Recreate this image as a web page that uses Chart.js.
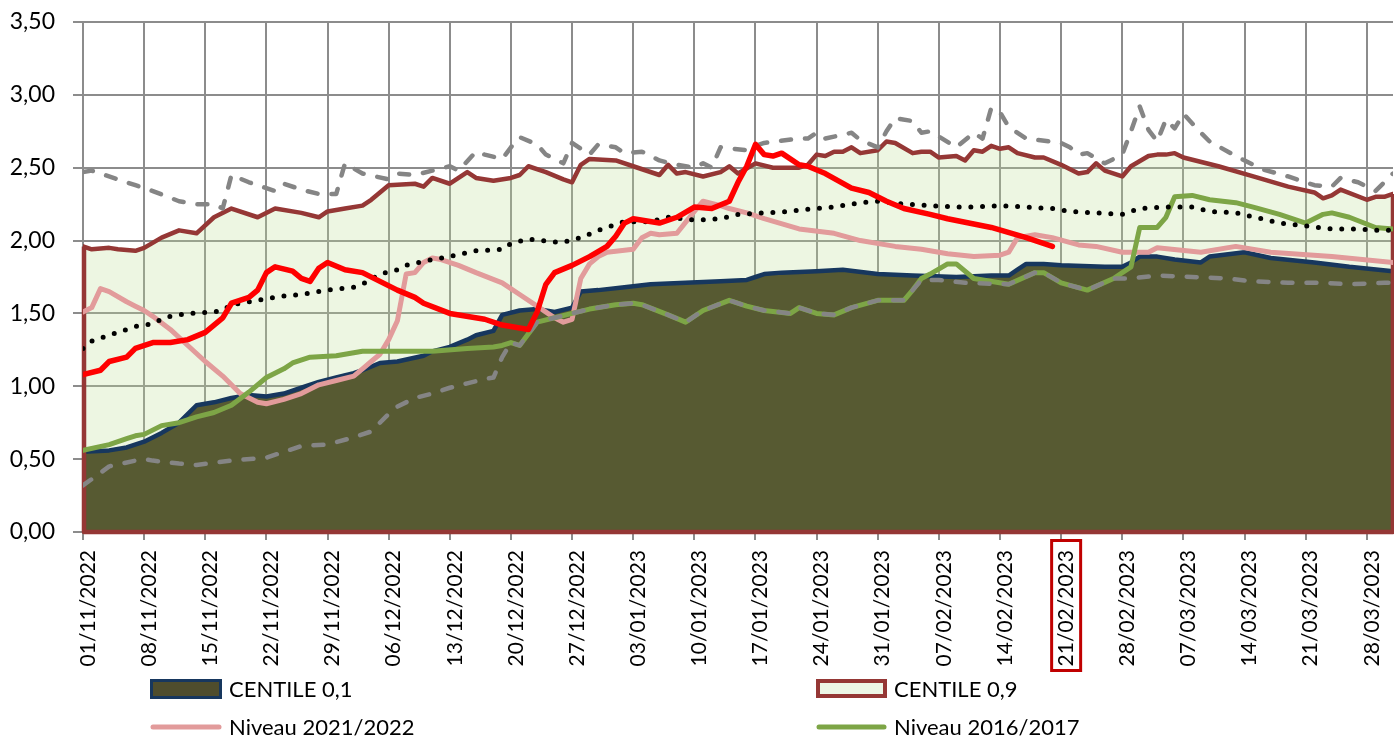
<!DOCTYPE html>
<html>
<head>
<meta charset="utf-8">
<script src="https://cdn.jsdelivr.net/npm/chart.js@4.4.1/dist/chart.umd.min.js"></script>
<style>
  html, body { margin: 0; padding: 0; background: #ffffff; }
  #wrap { width: 1394px; height: 737px; position: relative; }
</style>
</head>
<body>
<div id="wrap"><canvas id="chart"></canvas></div>
<script>
// ---- DATA (x = day number counted from 01/11/2022, y = level) ----
const tickLabels = ['01/11/2022','08/11/2022','15/11/2022','22/11/2022','29/11/2022','06/12/2022',
  '13/12/2022','20/12/2022','27/12/2022','03/01/2023','10/01/2023','17/01/2023','24/01/2023',
  '31/01/2023','07/02/2023','14/02/2023','21/02/2023','28/02/2023','07/03/2023','14/03/2023',
  '21/03/2023','28/03/2023'];
const lastDay = 150;            // 31/03/2023
const daysPerTick = 7;
const markedLabel = '21/02/2023';

const centile90 = [[0,1.96],[1,1.94],[3,1.95],[4,1.94],[6,1.93],[7,1.95],[9,2.02],[11,2.07],[13,2.05],[15,2.16],
  [17,2.22],[20,2.16],[22,2.22],[25,2.19],[27,2.16],[28,2.20],[30,2.22],[32,2.24],[33,2.28],[35,2.38],[38,2.39],
  [39,2.37],[40,2.43],[42,2.39],[44,2.47],[45,2.43],[47,2.41],[49,2.43],[50,2.45],[51,2.51],[53,2.47],[55,2.42],
  [56,2.40],[57,2.52],[58,2.56],[61,2.55],[63,2.51],[66,2.45],[67,2.52],[68,2.46],[69,2.47],[71,2.44],[73,2.47],
  [74,2.51],[75,2.46],[77,2.53],[79,2.50],[82,2.50],[83,2.52],[84,2.59],[85,2.58],[86,2.61],[87,2.61],[88,2.64],
  [89,2.60],[91,2.62],[92,2.68],[93,2.67],[95,2.60],[96,2.61],[97,2.61],[98,2.57],[100,2.58],[101,2.55],[102,2.62],
  [103,2.61],[104,2.65],[105,2.63],[106,2.64],[107,2.60],[109,2.57],[110,2.57],[112,2.52],[114,2.46],[115,2.47],
  [116,2.53],[117,2.48],[119,2.44],[120,2.51],[122,2.58],[123,2.59],[124,2.59],[125,2.60],[126,2.57],[130,2.51],
  [134,2.44],[138,2.37],[141,2.33],[142,2.29],[143,2.31],[144,2.35],[147,2.28],[148,2.30],[149,2.30],[150,2.32]];

const centile10 = [[0,0.55],[3,0.56],[5,0.58],[7,0.62],[9,0.68],[11,0.75],[13,0.87],[15,0.89],[17,0.92],[19,0.94],
  [21,0.93],[23,0.95],[25,0.99],[27,1.03],[29,1.06],[31,1.09],[32,1.11],[34,1.16],[36,1.17],[39,1.21],[40,1.24],
  [42,1.27],[44,1.32],[45,1.35],[47,1.38],[48,1.49],[50,1.52],[52,1.53],[54,1.51],[56,1.54],[57,1.65],[59,1.66],
  [62,1.68],[65,1.70],[69,1.71],[73,1.72],[76,1.73],[77,1.75],[78,1.77],[80,1.78],[84,1.79],[87,1.80],[91,1.77],
  [95,1.76],[100,1.75],[104,1.76],[106,1.76],[107,1.80],[108,1.84],[110,1.84],[112,1.83],[117,1.82],[119,1.82],
  [120,1.85],[121,1.89],[123,1.89],[125,1.87],[128,1.85],[129,1.89],[133,1.92],[136,1.88],[141,1.85],[145,1.82],
  [150,1.79]];

const niveau2122 = [[0,1.51],[1,1.54],[2,1.67],[3,1.65],[5,1.58],[6,1.55],[7,1.52],[8,1.48],[10,1.39],[12,1.28],
  [14,1.17],[16,1.07],[18,0.95],[20,0.89],[21,0.88],[23,0.91],[25,0.95],[27,1.01],[29,1.04],[31,1.07],[32,1.12],
  [33,1.17],[34,1.22],[35,1.32],[36,1.45],[37,1.77],[38,1.78],[39,1.85],[40,1.88],[41,1.87],[43,1.83],[45,1.78],
  [48,1.71],[50,1.63],[52,1.55],[54,1.47],[55,1.44],[56,1.46],[57,1.74],[58,1.84],[59,1.89],[60,1.92],[63,1.94],
  [64,2.02],[65,2.05],[66,2.04],[68,2.05],[70,2.20],[71,2.27],[73,2.24],[74,2.22],[76,2.19],[78,2.15],[82,2.08],
  [86,2.05],[89,2.00],[93,1.96],[96,1.94],[99,1.91],[102,1.89],[105,1.90],[106,1.92],[107,2.02],[109,2.04],
  [111,2.02],[114,1.97],[116,1.96],[119,1.92],[122,1.92],[123,1.95],[128,1.92],[132,1.96],[136,1.92],[143,1.89],
  [150,1.85]];

const niveau1617 = [[0,0.56],[3,0.60],[5,0.64],[6,0.66],[7,0.67],[9,0.73],[11,0.75],[13,0.79],[15,0.82],[17,0.87],
  [19,0.96],[21,1.06],[23,1.12],[24,1.16],[26,1.20],[29,1.21],[32,1.24],[40,1.24],[44,1.26],[47,1.27],[48,1.28],
  [49,1.30],[50,1.28],[51,1.36],[52,1.44],[54,1.47],[56,1.50],[58,1.53],[61,1.56],[63,1.57],[64,1.56],[67,1.49],
  [69,1.44],[71,1.52],[74,1.59],[76,1.55],[78,1.52],[81,1.50],[82,1.54],[84,1.50],[86,1.49],[88,1.54],[91,1.59],
  [94,1.59],[95,1.66],[96,1.74],[97,1.77],[99,1.84],[100,1.84],[102,1.74],[106,1.70],[109,1.78],[110,1.78],
  [112,1.71],[115,1.66],[118,1.74],[120,1.82],[121,2.09],[123,2.09],[124,2.16],[125,2.30],[127,2.31],[129,2.28],
  [132,2.26],[134,2.23],[137,2.18],[140,2.12],[142,2.18],[143,2.19],[145,2.16],[148,2.09],[150,2.08]];

const minimum = [[0,0.32],[3,0.45],[6,0.49],[7,0.50],[8,0.49],[11,0.47],[13,0.46],[17,0.49],[21,0.51],[23,0.55],
  [25,0.59],[28,0.60],[31,0.65],[33,0.69],[35,0.81],[36,0.86],[38,0.92],[40,0.95],[42,0.99],[44,1.02],[46,1.05],
  [47,1.06],[48,1.20],[49,1.30],[50,1.28],[51,1.36],[52,1.44],[54,1.47],[56,1.50],[58,1.53],[61,1.56],[63,1.57],
  [64,1.56],[67,1.49],[69,1.44],[71,1.52],[74,1.59],[76,1.55],[78,1.52],[81,1.50],[82,1.54],[84,1.50],[86,1.49],
  [88,1.54],[91,1.59],[94,1.59],[95,1.66],[96,1.73],[98,1.73],[101,1.71],[106,1.70],[109,1.78],[110,1.78],
  [112,1.71],[115,1.66],[118,1.74],[120,1.74],[123,1.76],[127,1.75],[131,1.74],[134,1.72],[138,1.71],[142,1.71],
  [145,1.70],[149,1.71],[150,1.71]];

const maximum = [[0,2.47],[1,2.48],[4,2.42],[6,2.38],[8,2.34],[11,2.27],[13,2.25],[15,2.25],[16,2.22],[17,2.45],
  [19,2.40],[21,2.36],[22,2.34],[23,2.39],[25,2.35],[27,2.32],[29,2.32],[30,2.53],[32,2.46],[35,2.42],[36,2.46],
  [38,2.45],[40,2.48],[42,2.51],[43,2.48],[45,2.61],[46,2.59],[48,2.56],[49,2.64],[50,2.71],[52,2.66],[53,2.59],
  [55,2.53],[56,2.67],[58,2.59],[59,2.66],[61,2.64],[62,2.60],[64,2.61],[65,2.58],[66,2.55],[68,2.52],[70,2.50],
  [71,2.53],[72,2.50],[73,2.64],[76,2.62],[77,2.65],[78,2.67],[82,2.70],[83,2.70],[84,2.74],[85,2.70],[88,2.74],
  [89,2.69],[91,2.64],[92,2.75],[93,2.84],[95,2.82],[96,2.74],[97,2.75],[100,2.64],[102,2.74],[103,2.70],
  [104,2.91],[105,2.88],[106,2.78],[108,2.70],[112,2.67],[113,2.64],[114,2.59],[115,2.60],[117,2.53],[119,2.59],
  [120,2.75],[121,2.92],[122,2.76],[123,2.68],[124,2.83],[125,2.77],[126,2.87],[128,2.74],[129,2.68],[132,2.58],
  [135,2.49],[138,2.44],[141,2.38],[143,2.37],[144,2.43],[146,2.40],[148,2.34],[149,2.40],[150,2.46]];

const mean = [[0,1.26],[1,1.31],[4,1.37],[6,1.41],[8,1.43],[9,1.46],[10,1.48],[12,1.50],[15,1.51],[16,1.52],
  [17,1.56],[20,1.59],[23,1.62],[25,1.63],[28,1.66],[31,1.68],[32,1.70],[34,1.77],[36,1.80],[37,1.83],[40,1.87],
  [42,1.89],[45,1.93],[48,1.94],[49,1.98],[51,2.01],[54,1.99],[55,1.99],[57,2.02],[59,2.07],[62,2.13],[65,2.13],
  [67,2.16],[70,2.14],[73,2.15],[75,2.18],[78,2.19],[81,2.20],[82,2.21],[86,2.23],[89,2.26],[91,2.27],[94,2.25],
  [97,2.24],[100,2.23],[102,2.23],[105,2.24],[108,2.23],[111,2.22],[113,2.20],[116,2.19],[119,2.18],[121,2.22],
  [124,2.23],[127,2.23],[129,2.20],[132,2.19],[135,2.15],[137,2.12],[140,2.10],[143,2.08],[146,2.08],[148,2.07],
  [150,2.07]];

const niveau2223 = [[0,1.08],[2,1.11],[3,1.17],[5,1.20],[6,1.26],[8,1.30],[10,1.30],[12,1.32],[14,1.37],[16,1.47],
  [17,1.57],[19,1.61],[20,1.66],[21,1.78],[22,1.82],[24,1.79],[25,1.74],[26,1.72],[27,1.81],[28,1.85],[30,1.80],
  [32,1.78],[34,1.72],[36,1.66],[38,1.61],[39,1.57],[42,1.50],[46,1.46],[48,1.42],[51,1.39],[52,1.51],[53,1.70],
  [54,1.78],[56,1.83],[58,1.89],[60,1.96],[61,2.03],[62,2.12],[63,2.15],[66,2.12],[68,2.16],[70,2.23],[72,2.22],
  [74,2.27],[75,2.40],[76,2.51],[77,2.66],[78,2.59],[79,2.58],[80,2.60],[82,2.52],[83,2.51],[85,2.46],[88,2.36],
  [90,2.33],[92,2.27],[94,2.22],[97,2.18],[99,2.15],[104,2.09],[108,2.02],[111,1.96]];

// ---- STYLE ----
const C = {
  olive: '#575A32', navy: '#17375E', darkRed: '#953735',
  lightFill: 'rgba(190,222,150,0.28)', legendLight: '#EDF6E6',
  pink: '#E29B9B', green: '#7DA546', gray: '#858585', red: '#FF0000', grid: '#8C8C8C'
};
const FONT = 'Lato, "Noto Sans", sans-serif';

const frameAndLegend = {
  id: 'frameAndLegend',
  afterDatasetDraw(chart, args) {
    if (args.index !== 1) return;            // right after the CENTILE 0,1 area
    const xs = chart.scales.x, ys = chart.scales.y, ctx = chart.ctx;
    const first = centile90[0], last = centile90[centile90.length - 1];
    const x0 = xs.getPixelForValue(first[0]) + 1, x1 = xs.getPixelForValue(last[0]);
    const yb = ys.getPixelForValue(0);
    ctx.save();
    ctx.strokeStyle = C.darkRed; ctx.lineWidth = 4.5; ctx.lineJoin = 'round';
    ctx.beginPath();
    ctx.moveTo(x0, ys.getPixelForValue(first[1]));
    ctx.lineTo(x0, yb); ctx.lineTo(x1, yb);
    ctx.lineTo(x1, ys.getPixelForValue(last[1]));
    ctx.stroke();
    ctx.restore();
  },
  afterDraw(chart) {
    const ctx = chart.ctx, xs = chart.scales.x;
    ctx.save();
    // red frame around the marked date label
    const idx = tickLabels.indexOf(markedLabel);
    const xm = xs.getPixelForValue(idx * daysPerTick) + 5;
    ctx.strokeStyle = '#C00000'; ctx.lineWidth = 3;
    ctx.strokeRect(xm - 14.5, xs.top + 8.5, 29, 130);

    // legend
    ctx.font = '22px ' + FONT; ctx.fillStyle = '#000'; ctx.textBaseline = 'alphabetic'; ctx.textAlign = 'left';
    // CENTILE 0,1
    ctx.fillStyle = '#4F4D2D'; ctx.fillRect(151.5, 680.5, 69, 17);
    ctx.strokeStyle = C.navy; ctx.lineWidth = 3; ctx.strokeRect(151.5, 680.5, 69, 17);
    ctx.fillStyle = '#000'; ctx.fillText('CENTILE 0,1', 229, 697);
    // CENTILE 0,9
    ctx.fillStyle = C.legendLight; ctx.fillRect(818, 681, 67, 15);
    ctx.strokeStyle = C.darkRed; ctx.lineWidth = 4; ctx.strokeRect(818, 681, 67, 15);
    ctx.fillStyle = '#000'; ctx.fillText('CENTILE 0,9', 894, 697);
    // lines
    ctx.lineCap = 'round'; ctx.lineWidth = 5;
    ctx.strokeStyle = C.pink; ctx.beginPath(); ctx.moveTo(153, 727); ctx.lineTo(219, 727); ctx.stroke();
    ctx.fillText('Niveau 2021/2022', 229, 735);
    ctx.strokeStyle = C.green; ctx.beginPath(); ctx.moveTo(819, 727); ctx.lineTo(884, 727); ctx.stroke();
    ctx.fillText('Niveau 2016/2017', 894, 735);
    ctx.restore();
  }
};

const line = (data, color, width, order, extra) => Object.assign({
  data, borderColor: color, borderWidth: width, order, pointRadius: 0, tension: 0,
  borderJoinStyle: 'round', borderCapStyle: 'round', fill: false
}, extra || {});

new Chart(document.getElementById('chart'), {
  type: 'line',
  data: {
    datasets: [
      line(centile90, C.darkRed, 4.5, 9, { label: 'CENTILE 0,9', fill: 'origin', backgroundColor: C.lightFill }),
      line(centile10, C.navy, 4.5, 8, { label: 'CENTILE 0,1', fill: 'origin', backgroundColor: C.olive }),
      line(niveau2122, C.pink, 5, 6, { label: 'Niveau 2021/2022' }),
      line(niveau1617, C.green, 5, 5, { label: 'Niveau 2016/2017' }),
      line(minimum, C.gray, 4.5, 4, { label: 'Minimum', borderDash: [10, 14] }),
      line(maximum, C.gray, 4.5, 3, { label: 'Maximum', borderDash: [10, 14] }),
      line(mean, '#000000', 5, 2, { label: 'Moyenne', borderDash: [0, 11.7] }),
      line(niveau2223, C.red, 5.5, 1, { label: 'Niveau 2022/2023' })
    ]
  },
  options: {
    responsive: true, maintainAspectRatio: false, animation: false,
    layout: { padding: { top: 22, right: 1, bottom: 65, left: 0 } },
    plugins: { legend: { display: false }, tooltip: { enabled: false } },
    scales: {
      x: {
        type: 'linear', min: 0, max: lastDay,
        afterFit(s) { s.height = 140; s.paddingLeft = 0; s.paddingRight = 0; },
        grid: { color: C.grid, lineWidth: 2, tickLength: 8 },
        border: { color: C.grid, width: 2 },
        ticks: {
          stepSize: daysPerTick, includeBounds: false, autoSkip: false,
          minRotation: 90, maxRotation: 90, labelOffset: 5, padding: 10,
          color: '#000', font: { family: FONT, size: 21 },
          callback: v => { const i = v / daysPerTick; return Number.isInteger(i) ? (tickLabels[i] || '') : ''; }
        }
      },
      y: {
        min: 0, max: 3.5,
        afterFit(s) { s.width = 83; s.paddingTop = 0; s.paddingBottom = 0; },
        grid: { color: C.grid, lineWidth: 2, tickLength: 10 },
        border: { color: C.grid, width: 2 },
        ticks: {
          stepSize: 0.5, padding: 18, color: '#000', font: { family: FONT, size: 23 },
          callback: v => v.toFixed(2).replace('.', ',')
        }
      }
    }
  },
  plugins: [frameAndLegend]
});
</script>
</body>
</html>
